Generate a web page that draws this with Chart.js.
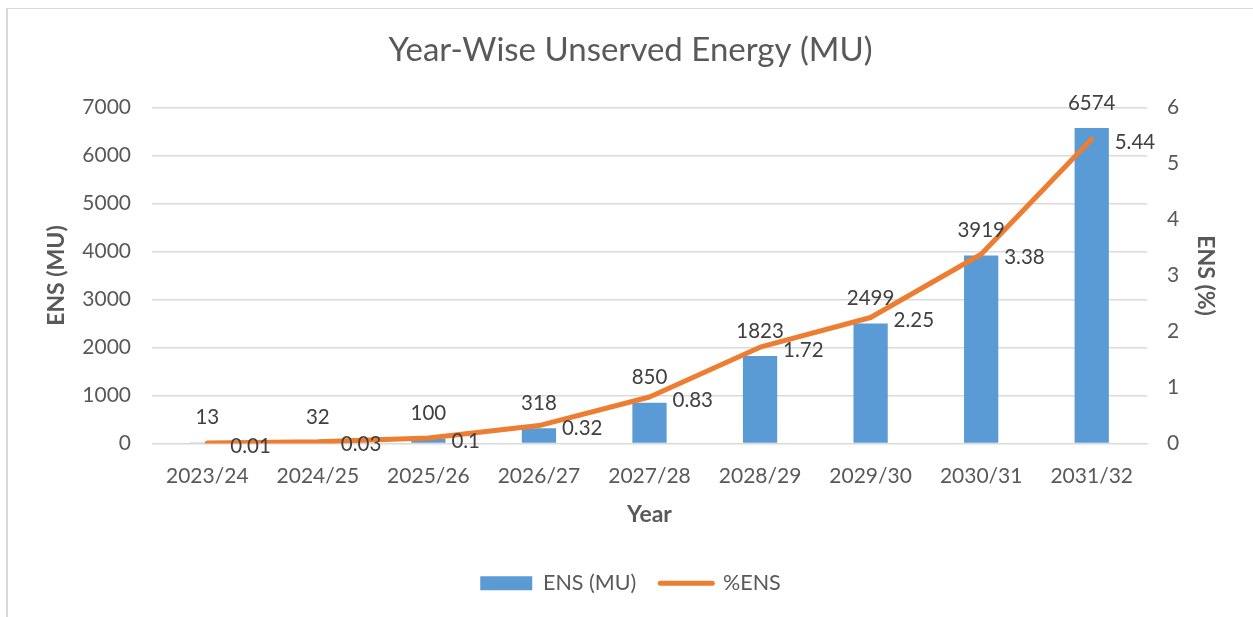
<!DOCTYPE html>
<html>
<head>
<meta charset="utf-8">
<script src="https://cdn.jsdelivr.net/npm/chart.js@4"></script>
<style>
  html, body { margin: 0; padding: 0; background: #fff; overflow: hidden; }
  #frame { position: absolute; left: 6px; top: 8px; width: 1260px; height: 620px; border-left: 2px solid #d9d9d9; border-top: 1px solid #d9d9d9; }
  #wrap { position: absolute; left: 0; top: 0; width: 1245px; height: 608px; }
</style>
</head>
<body>
<div id="frame"><div id="wrap"><canvas id="c"></canvas></div></div>
<script>
const categories = ["2023/24","2024/25","2025/26","2026/27","2027/28","2028/29","2029/30","2030/31","2031/32"];
const ensMU = [13, 32, 100, 318, 850, 1823, 2499, 3919, 6574];
const ensPct = [0.01, 0.03, 0.1, 0.32, 0.83, 1.72, 2.25, 3.38, 5.44];
const leftTicks = [0, 1000, 2000, 3000, 4000, 5000, 6000, 7000];
const rightTicks = [0, 1, 2, 3, 4, 5, 6];

const FONT = "Lato, 'Open Sans', sans-serif";
const TXT = "#595959";
const BLUE = "#5B9BD5";
const ORANGE = "#ED7D31";

const labelPlugin = {
  id: 'valueLabels',
  afterDatasetsDraw(chart) {
    const ctx = chart.ctx;
    ctx.save();
    ctx.font = "20.5px " + FONT;
    ctx.fillStyle = "#404040";
    ctx.textBaseline = 'middle';
    chart.getDatasetMeta(0).data.forEach((el, i) => {
      ctx.textAlign = 'center';
      ctx.fillText(String(ensMU[i]), el.x, el.y - 25);
    });
    chart.getDatasetMeta(1).data.forEach((el, i) => {
      ctx.textAlign = 'left';
      ctx.fillText(String(ensPct[i]), el.x + 23, el.y + 3);
    });
    ctx.restore();
  }
};

new Chart(document.getElementById('c'), {
  data: {
    labels: categories,
    datasets: [
      {
        type: 'bar',
        label: 'ENS (MU)',
        data: ensMU,
        backgroundColor: BLUE,
        yAxisID: 'y',
        categoryPercentage: 1,
        barPercentage: 0.31,
        order: 2
      },
      {
        type: 'line',
        label: '%ENS',
        data: ensPct,
        borderColor: ORANGE,
        backgroundColor: ORANGE,
        borderWidth: 5,
        pointRadius: 0,
        tension: 0,
        borderCapStyle: 'round',
        borderJoinStyle: 'round',
        yAxisID: 'y1',
        order: 1
      }
    ]
  },
  options: {
    responsive: true,
    maintainAspectRatio: false,
    animation: false,
    layout: { padding: { left: 0, right: 0, top: 0, bottom: 13 } },
    plugins: {
      title: {
        display: true,
        text: 'Year-Wise Unserved Energy (MU)',
        color: TXT,
        font: { family: FONT, size: 33, weight: 'normal' },
        padding: { top: 22, bottom: 37 }
      },
      legend: {
        position: 'bottom',
        labels: {
          color: TXT,
          font: { family: FONT, size: 21.5 },
          usePointStyle: true,
          pointStyleWidth: 52,
          boxWidth: 52,
          boxHeight: 14,
          padding: 24,
          generateLabels(chart) {
            return [
              { text: 'ENS (MU)', fillStyle: BLUE, strokeStyle: BLUE, lineWidth: 0, pointStyle: 'rect', datasetIndex: 0, fontColor: TXT },
              { text: '%ENS', fillStyle: ORANGE, strokeStyle: ORANGE, lineWidth: 5, lineCap: 'round', pointStyle: 'line', datasetIndex: 1, fontColor: TXT }
            ];
          }
        }
      },
      tooltip: { enabled: false }
    },
    scales: {
      x: {
        grid: { display: false },
        border: { display: true, color: '#d9d9d9', width: 1 },
        ticks: { color: TXT, font: { family: FONT, size: 21 }, padding: 12, maxRotation: 0 },
        title: { display: true, text: 'Year', color: TXT, font: { family: FONT, size: 23, weight: 'bold' }, padding: { top: 0, bottom: 20 } },
        afterFit(scale) { scale.height = 105; }
      },
      y: {
        position: 'left',
        min: 0, max: 7000,
        afterBuildTicks(scale) { scale.ticks = leftTicks.map(v => ({ value: v })); },
        ticks: { color: TXT, font: { family: FONT, size: 21 }, padding: 21, callback: v => String(v) },
        grid: { color: '#d9d9d9', lineWidth: 1.5, drawTicks: false },
        border: { display: false },
        title: { display: true, text: 'ENS (MU)', color: TXT, font: { family: FONT, size: 23, weight: 'bold' }, padding: { top: 35, bottom: 0 } },
        afterFit(scale) { scale.width = 144; }
      },
      y1: {
        position: 'right',
        min: 0, max: 6,
        afterBuildTicks(scale) { scale.ticks = rightTicks.map(v => ({ value: v })); },
        ticks: { color: TXT, font: { family: FONT, size: 21 }, padding: 20, callback: v => String(v) },
        grid: { display: false, drawTicks: false },
        border: { display: false },
        title: { display: true, text: 'ENS (%)', color: TXT, font: { family: FONT, size: 23, weight: 'bold' }, padding: { top: 34, bottom: 0 } },
        afterFit(scale) { scale.width = 106; }
      }
    }
  },
  plugins: [labelPlugin]
});
</script>
</body>
</html>
